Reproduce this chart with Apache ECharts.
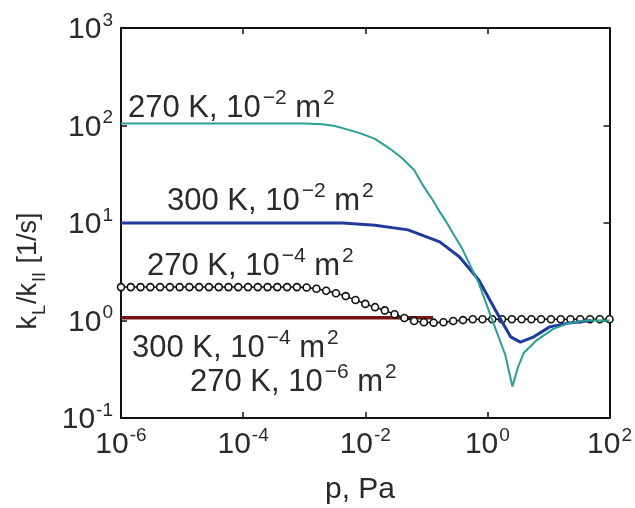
<!DOCTYPE html>
<html>
<head>
<meta charset="utf-8">
<script src="https://cdn.jsdelivr.net/npm/echarts@6/dist/echarts.min.js"></script>
<style>html,body{margin:0;padding:0;background:#fff;}#c{width:635px;height:508px;}</style>
</head>
<body>
<div id="c"></div>
<script>
// ---- data (x given as log10(p, Pa), y as k_L/k_II in 1/s) ----
var tealLogP = [-6, -3.0, -2.7, -2.5, -2.37, -2.1, -1.84, -1.6, -1.41, -1.2, -1.05, -0.89, -0.78, -0.67, -0.51, -0.41, -0.14, 0.06, 0.29, 0.41, 0.50, 0.60, 0.81, 1.08, 1.33, 1.6, 2.0];
var tealK    = [105, 105, 103, 99, 94, 84, 73, 58, 47, 35, 24, 17, 13, 10.2, 6.9, 5.4, 2.4, 1.09, 0.45, 0.21, 0.33, 0.47, 0.63, 0.82, 0.94, 1.0, 1.0];

var blueLogP = [-6, -2.37, -1.84, -1.30, -0.78, -0.46, -0.14, 0.13, 0.38, 0.54, 0.76, 1.02, 1.33, 1.7];
var blueK    = [10, 10, 9.5, 8.5, 6.4, 4.5, 2.6, 1.28, 0.68, 0.6, 0.68, 0.86, 0.94, 1.0];

var redLogP = [-6, -0.89];
var redK    = [1.07, 1.07];

var circLogP = [-6.00, -5.84, -5.68, -5.52, -5.36, -5.20, -5.04, -4.88, -4.72, -4.56, -4.40, -4.24, -4.08, -3.92, -3.76, -3.60, -3.44, -3.28, -3.12, -2.96, -2.80, -2.64, -2.48, -2.32, -2.16, -2.00, -1.84, -1.68, -1.52, -1.36, -1.20, -1.04, -0.88, -0.72, -0.56, -0.40, -0.24, -0.08, 0.08, 0.24, 0.40, 0.56, 0.72, 0.88, 1.04, 1.20, 1.36, 1.52, 1.68, 1.84, 2.00];
var circK    = [2.2, 2.2, 2.2, 2.2, 2.2, 2.2, 2.2, 2.2, 2.2, 2.2, 2.2, 2.2, 2.2, 2.2, 2.2, 2.2, 2.2, 2.2, 2.2, 2.18, 2.12, 2.02, 1.9, 1.78, 1.62, 1.48, 1.37, 1.27, 1.16, 1.06, 0.99, 0.96, 0.95, 0.96, 0.99, 1.01, 1.03, 1.03, 1.03, 1.03, 1.03, 1.03, 1.03, 1.03, 1.03, 1.03, 1.03, 1.03, 1.03, 1.03, 1.03];

var xTicksExp = [-6, -4, -2, 0, 2];
var yTicksExp = [-1, 0, 1, 2, 3];

var annotations = [
  ['270 K, 10', '\u22122', ' m', '2'],
  ['300 K, 10', '\u22122', ' m', '2'],
  ['270 K, 10', '\u22124', ' m', '2'],
  ['300 K, 10', '\u22124', ' m', '2'],
  ['270 K, 10', '\u22126', ' m', '2']
];
var xTitle = 'p, Pa';

function pairs(lp, k) { return lp.map(function (e, i) { return [Math.pow(10, e), k[i]]; }); }

var FONT = 'Liberation Sans, Arial, sans-serif';
var TXT = '#2a2a2a';

function powLabel(v) {
  var e = Math.round(Math.log10(v));
  return '{b|10}{s|' + e + '}';
}
var labelRich = {
  b: { fontSize: 30, fontFamily: FONT, color: TXT, lineHeight: 34, verticalAlign: 'bottom' },
  s: { fontSize: 19, fontFamily: FONT, color: TXT, lineHeight: 34, verticalAlign: 'top', padding: [0, 0, 0, 1] }
};

var annRich = {
  t: { fontSize: 31, fontFamily: FONT, fill: TXT, color: TXT, lineHeight: 36, verticalAlign: 'bottom' },
  s: { fontSize: 21, fontFamily: FONT, fill: TXT, color: TXT, lineHeight: 36, verticalAlign: 'top', padding: [0, 0, 0, 2] }
};
var annPos = [[128, 88], [167, 181], [147, 246], [132, 328], [190, 362]];

var graphics = annotations.map(function (a, i) {
  return {
    type: 'text', x: annPos[i][0], y: annPos[i][1], z: 100,
    style: {
      text: '{t|' + a[0] + '}{s|' + a[1] + '}{t|' + a[2] + '}{s|' + a[3] + '}',
      rich: annRich, fill: TXT
    }
  };
});
graphics.push({
  type: 'text', x: 360, y: 490, z: 100,
  style: { text: xTitle, fontSize: 30, fontFamily: FONT, fill: TXT, align: 'center', verticalAlign: 'middle' }
});
graphics.push({
  type: 'text', x: 32, y: 271, rotation: Math.PI / 2, z: 100,
  style: {
    text: '{t|k}{u|L}{t|/k}{u|II}{t| [1/s]}',
    rich: {
      t: { fontSize: 27, fontFamily: FONT, fill: TXT, color: TXT, lineHeight: 34, verticalAlign: 'top' },
      u: { fontSize: 18, fontFamily: FONT, fill: TXT, color: TXT, lineHeight: 34, verticalAlign: 'bottom', padding: [0, 1, 0, 1] }
    },
    align: 'center', verticalAlign: 'middle', fill: TXT
  }
});

var chart = echarts.init(document.getElementById('c'), null, { renderer: 'canvas' });
var axisLine = { show: true, lineStyle: { color: '#111', width: 2 } };
var tick = { show: true, inside: true, length: 6, lineStyle: { color: '#111', width: 1.5 } };

chart.setOption({
  animation: false,
  backgroundColor: '#fff',
  grid: { left: 121, right: 10, top: 28, bottom: 90, containLabel: false },
  xAxis: [
    {
      type: 'log', logBase: 10, min: 1e-6, max: 1e2, interval: 2,
      axisLine: axisLine, axisTick: tick, splitLine: { show: false }, minorTick: { show: false },
      axisLabel: { formatter: powLabel, rich: labelRich, margin: 8, showMinLabel: true, showMaxLabel: true }
    },
    {
      type: 'log', logBase: 10, min: 1e-6, max: 1e2, interval: 2, position: 'top',
      axisLine: axisLine, axisTick: tick, splitLine: { show: false }, axisLabel: { show: false }
    }
  ],
  yAxis: [
    {
      type: 'log', logBase: 10, min: 0.1, max: 1000, interval: 1,
      axisLine: axisLine, axisTick: tick, splitLine: { show: false }, minorTick: { show: false },
      axisLabel: { formatter: powLabel, rich: labelRich, margin: 8, showMinLabel: true, showMaxLabel: true }
    },
    {
      type: 'log', logBase: 10, min: 0.1, max: 1000, interval: 1, position: 'right',
      axisLine: axisLine, axisTick: tick, splitLine: { show: false }, axisLabel: { show: false }
    }
  ],
  series: [
    { type: 'line', data: pairs(redLogP, redK), showSymbol: false, symbol: 'none', lineStyle: { color: '#741616', width: 3.5 }, z: 2 },
    { type: 'line', data: pairs(circLogP, circK), symbol: 'circle', symbolSize: 7, showSymbol: true,
      itemStyle: { color: '#fff', borderColor: '#111', borderWidth: 1.6 }, lineStyle: { color: '#111', width: 1.5 }, z: 3 },
    { type: 'line', data: pairs(blueLogP, blueK), symbol: 'none', lineStyle: { color: '#1f3a9e', width: 3 }, z: 4 },
    { type: 'line', data: pairs(tealLogP, tealK), symbol: 'none', lineStyle: { color: '#2a9f94', width: 2 }, z: 5 }
  ],
  graphic: graphics
});
</script>
</body>
</html>
